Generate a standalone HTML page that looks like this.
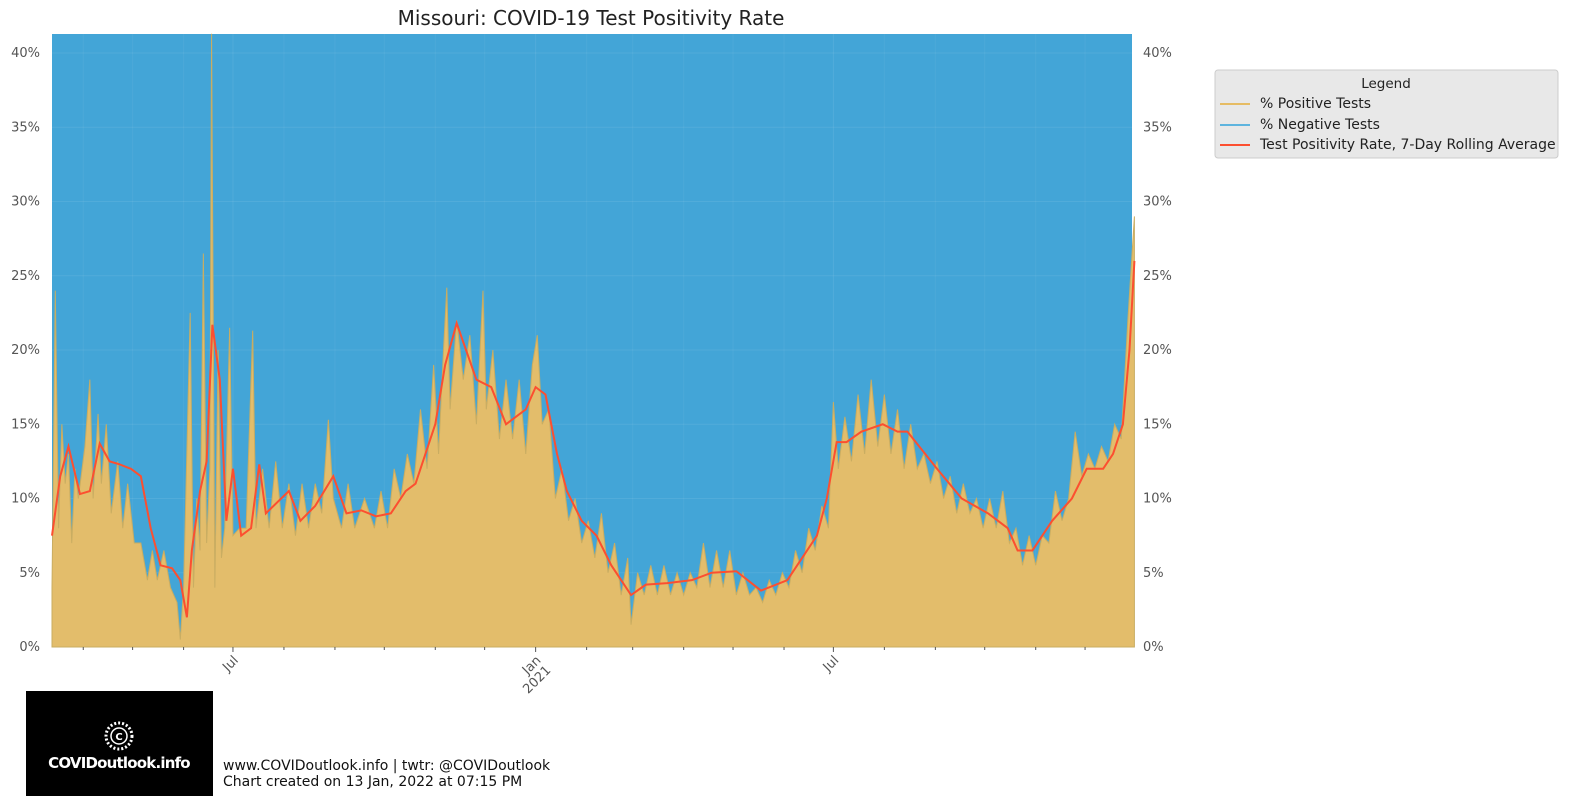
<!DOCTYPE html>
<html><head><meta charset="utf-8">
<style>
body{margin:0;background:#fff;width:1572px;height:808px;overflow:hidden;font-family:"DejaVu Sans","Liberation Sans",sans-serif;}
svg text{font-family:"DejaVu Sans","Liberation Sans",sans-serif;}
</style></head>
<body>
<svg id="chart" width="1572" height="808" xmlns="http://www.w3.org/2000/svg">
<text x="591" y="25" text-anchor="middle" font-size="20" fill="#222">Missouri: COVID-19 Test Positivity Rate</text>
<rect x="52" y="34" width="1080" height="613" fill="#43a5d7"/>
<g id="grid"></g>
<path id="posArea" fill="#e3bd6b" stroke="#c9ad62" stroke-width="1"/>
<path id="rollLine" fill="none" stroke="#fc4f30" stroke-width="2"/>
<g id="axes"></g>
<g>
<rect x="1215" y="70" width="343" height="88" fill="#e8e8e8" stroke="#ccc" rx="3"/>
<text x="1386" y="88" text-anchor="middle" font-size="13.5" fill="#222">Legend</text>
<line x1="1220" y1="104" x2="1250" y2="104" stroke="#e5ae38" stroke-width="1.5"/>
<text x="1260" y="108" font-size="14" fill="#222">% Positive Tests</text>
<line x1="1220" y1="125" x2="1250" y2="125" stroke="#30a2da" stroke-width="1.5"/>
<text x="1260" y="129" font-size="14" fill="#222">% Negative Tests</text>
<line x1="1220" y1="145" x2="1250" y2="145" stroke="#fc4f30" stroke-width="2"/>
<text x="1260" y="149" font-size="14" fill="#222">Test Positivity Rate, 7-Day Rolling Average</text>
</g>
<g>
<rect x="26" y="691" width="187" height="105" fill="#000"/>
<circle cx="119" cy="736" r="13" fill="none" stroke="#fff" stroke-width="3" stroke-dasharray="2 2"/>
<circle cx="119" cy="736" r="8" fill="none" stroke="#fff" stroke-width="1.5"/>
<text x="119" y="740" text-anchor="middle" font-size="10" fill="#fff" font-weight="bold">C</text>
<text x="119" y="768" text-anchor="middle" font-size="15" fill="#fff" font-weight="bold" letter-spacing="-0.8">COVIDoutlook.info</text>
</g>
<text x="223" y="770" font-size="14" fill="#111">www.COVIDoutlook.info | twtr: @COVIDoutlook</text>
<text x="223" y="786" font-size="14" fill="#111">Chart created on 13 Jan, 2022 at 07:15 PM</text>
</svg>
<script>
// days since 2020-03-13
const rollDays=[0,5,10,17,23,29,35,41,48,54,60,66,73,78,82,85,90,94,97.5,102,106,110,115,121,126,130,144,151,160,171,179,188,197,206,215,221,227,233,239,246,258,267,276,282,288,294,300,307,313,322,331,340,352,361,374,389,401,416,431,447,456,465,471,477,483,492,505,514,520,538,553,569,581,587,596,608,620,629,639,645,651,655,658];
const rollVals=[7.5,11.5,13.5,10.3,10.5,13.7,12.5,12.3,12,11.5,8,5.5,5.3,4.5,2,6.5,10.5,12.5,21.7,18,8.5,12,7.5,8,12.3,9,10.5,8.5,9.5,11.5,9,9.2,8.8,9,10.5,11,13,15,19,21.8,18,17.5,15,15.5,16,17.5,17,13,10.5,8.5,7.5,5.5,3.5,4.2,4.3,4.5,5,5.1,3.8,4.5,6,7.5,10,13.8,13.8,14.5,15,14.5,14.5,12,10,9,8,6.5,6.5,8.5,10,12,12,13,15,20,26];
const posDays=[0,2,4,6,8,10,12,14,16,20,23,25,28,30,33,36,40,43,46,50,54,58,61,64,68,72,76,78,80,84,86,88,90,92,94,96,97,99,101,103,105,108,110,114,118,122,124,128,132,136,140,144,148,152,156,160,164,168,171,176,180,184,190,196,200,204,208,212,216,220,224,228,232,235,238,240,242,246,250,254,258,262,264,268,272,276,280,284,288,292,295,298,302,306,310,314,318,322,326,330,334,338,342,346,350,352,356,360,364,368,372,376,380,384,388,392,396,400,404,408,412,416,420,424,428,432,436,440,444,448,452,456,460,464,468,472,475,478,482,486,490,494,498,502,506,510,514,518,522,526,530,534,538,542,546,550,554,558,562,566,570,574,578,582,586,590,594,598,602,606,610,614,618,622,626,630,634,638,642,646,650,654,658];
const posVals=[4,24,8,15,11,13,7,12,10,13.5,18,10,15.7,11,15,9,12.5,8,11,7,7,4.5,6.5,4.5,6.5,4,3,0.5,4,22.5,4,10,6.5,26.5,7,12,41.5,4,20,6,8,21.5,7.5,8,8,21.3,8,12,8,12.5,8,11,7.5,11,8,11,9,15.3,10,8,11,8,10,8,10.5,8,12,10,13,11,16,12,19,13,20,24.2,16,22,18,21,15,24,16,20,14,18,14,18,13,19,21,15,16,10,12,8.5,10,7,8.5,6,9,5,7,3.5,6,1.5,5,3.5,5.5,3.5,5.5,3.5,5,3.5,5,4,7,4,6.5,4,6.5,3.5,5,3.5,4,3,4.5,3.5,5,4,6.5,5,8,6.5,9.5,8,16.5,12,15.5,12.5,17,13,18,13.5,17,13,16,12,15,12,13,11,12.5,10,11.5,9,11,9,10,8,10,8,10.5,7,8,5.5,7.5,5.5,7.5,7,10.5,8.5,10,14.5,11.5,13,12,13.5,12.5,15,14,22,29];
const yTicks=[0,5,10,15,20,25,30,35,40];
const xMajor=[{d:110,l:["Jul"]},{d:294,l:["Jan","2021"]},{d:475,l:["Jul"]}];
const xMinor=[19,49,80,141,172,202,233,263,325,353,384,414,445,506,537,567,598,628];

const X0=52,X1=1132,Y0=647,PXD=1.645,PXP=(647-53)/40;
const xs=d=>X0+d*PXD, ys=v=>Y0-v*PXP;
const NS="http://www.w3.org/2000/svg";
function mk(tag,attrs,parent){const e=document.createElementNS(NS,tag);for(const k in attrs)e.setAttribute(k,attrs[k]);parent.appendChild(e);return e;}
const grid=document.getElementById('grid'),axes=document.getElementById('axes');
yTicks.forEach(t=>{
  const g=mk('line',{x1:X0,x2:X1,y1:ys(t),y2:ys(t),stroke:'rgba(255,255,255,0.08)'},grid);
  
  
  const a=mk('text',{x:40,y:ys(t)+4,'text-anchor':'end','font-size':13,fill:'#555'},axes);a.textContent=t+'%';
  
  
  const b=mk('text',{x:1143,y:ys(t)+4,'font-size':13,fill:'#555'},axes);b.textContent=t+'%';
  
  
});
xMajor.forEach(m=>{
  const x=xs(m.d);
  const g=mk('line',{x1:x,x2:x,y1:34,y2:Y0,stroke:'rgba(255,255,255,0.08)'},grid);
  
  
  mk('line',{x1:x,x2:x,y1:Y0,y2:Y0+5,stroke:'#555'},axes);
  const t=mk('text',{'font-size':13,fill:'#555','text-anchor':'end',transform:`translate(${x+6},${Y0+14}) rotate(-45)`},axes);
  
  
  m.l.forEach((s,i)=>{const ts=mk('tspan',{x:0,dy:i?14:0},t);ts.textContent=s;});
});
xMinor.forEach(d=>{const x=xs(d);
  const g=mk('line',{x1:x,x2:x,y1:34,y2:Y0,stroke:'rgba(255,255,255,0.05)'},grid);
  
  
  mk('line',{x1:x,x2:x,y1:Y0,y2:Y0+3,stroke:'#555'},axes);});
const cl=v=>Math.min(v,41.3);
let p=`M${xs(posDays[0])},${Y0}`;
posDays.forEach((d,i)=>{p+=`L${xs(d)},${ys(cl(posVals[i]))}`;});
p+=`L${xs(posDays[posDays.length-1])},${Y0}Z`;
document.getElementById('posArea').setAttribute('d',p);
document.getElementById('rollLine').setAttribute('d',rollDays.map((d,i)=>(i?'L':'M')+xs(d)+','+ys(rollVals[i])).join(''));
</script>
</body></html>
